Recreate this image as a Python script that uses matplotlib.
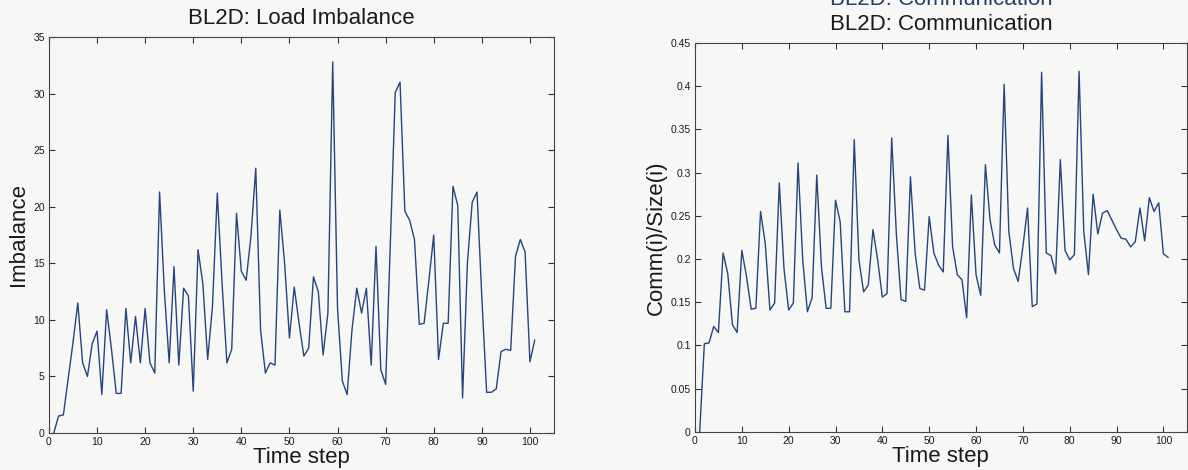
import numpy as np
import matplotlib
matplotlib.use("Agg")
import matplotlib.pyplot as plt
from matplotlib.ticker import FuncFormatter

plt.rcParams['font.family'] = ['Liberation Sans', 'DejaVu Sans']

# time steps
steps = np.arange(1, 102)

# load imbalance per step
imbalance = [0, 1.5, 1.6, 4.8, 8.0, 11.5, 6.2, 5.0, 7.9, 9.0,
             3.4, 10.9, 7.4, 3.5, 3.5, 11.0, 6.2, 10.3, 6.2, 11.0,
             6.2, 5.3, 21.3, 12.5, 6.2, 14.7, 6.0, 12.8, 12.1, 3.7,
             16.2, 13.2, 6.5, 11.2, 21.2, 13.2, 6.2, 7.4, 19.4, 14.3,
             13.5, 17.4, 23.4, 9.1, 5.3, 6.2, 6.0, 19.7, 15.0, 8.4,
             12.9, 9.7, 6.8, 7.5, 13.8, 12.5, 6.9, 10.6, 32.8, 11.0,
             4.6, 3.4, 9.1, 12.8, 10.6, 12.8, 6.0, 16.5, 5.6, 4.3,
             17.0, 30.1, 31.0, 19.6, 18.8, 17.1, 9.6, 9.7, 13.5, 17.5,
             6.5, 9.7, 9.7, 21.8, 20.1, 3.1, 15.0, 20.4, 21.3, 12.0,
             3.6, 3.6, 3.9, 7.2, 7.4, 7.3, 15.6, 17.1, 16.0, 6.3,
             8.2]

# communication / size per step
comm = [0, 0.102, 0.103, 0.122, 0.115, 0.207, 0.183, 0.124, 0.115, 0.210,
        0.180, 0.142, 0.143, 0.255, 0.218, 0.141, 0.149, 0.288, 0.189, 0.141,
        0.149, 0.311, 0.199, 0.139, 0.155, 0.297, 0.191, 0.143, 0.143, 0.268,
        0.243, 0.139, 0.139, 0.338, 0.199, 0.162, 0.170, 0.234, 0.199, 0.156,
        0.160, 0.340, 0.228, 0.153, 0.151, 0.295, 0.207, 0.166, 0.164, 0.249,
        0.207, 0.193, 0.185, 0.343, 0.214, 0.182, 0.176, 0.132, 0.274, 0.182,
        0.158, 0.309, 0.245, 0.216, 0.207, 0.402, 0.232, 0.189, 0.174, 0.214,
        0.259, 0.145, 0.148, 0.416, 0.207, 0.204, 0.183, 0.315, 0.210, 0.199,
        0.205, 0.417, 0.232, 0.182, 0.275, 0.229, 0.253, 0.256, 0.245, 0.234,
        0.224, 0.223, 0.214, 0.220, 0.259, 0.221, 0.271, 0.255, 0.265, 0.206,
        0.202]

xticks = np.arange(0, 101, 10)
bg = '#f7f7f5'
line_col = '#24457e'
txt = '#1a1a1a'

fig = plt.figure(figsize=(11.88, 4.70), dpi=100, facecolor=bg)
ax1 = fig.add_axes([0.0412, 0.0787, 0.4251, 0.8426])
ax2 = fig.add_axes([0.585, 0.0809, 0.414, 0.828])

def style(ax):
    ax.set_facecolor(bg)
    ax.tick_params(direction='in', top=True, right=True, length=4,
                   width=0.8, labelsize=7.5, colors='#333333',
                   labelcolor=txt, pad=3)
    for s in ax.spines.values():
        s.set_color('#444444')
        s.set_linewidth(0.8)
    ax.set_xlim(0, 105)
    ax.set_xticks(xticks)
    ax.xaxis.set_major_formatter(FuncFormatter(lambda v, p: f"{v:g}"))
    ax.yaxis.set_major_formatter(FuncFormatter(lambda v, p: f"{v:g}"))

ax1.plot(steps, imbalance, color=line_col, lw=1.0)
style(ax1)
ax1.set_ylim(0, 35)
ax1.set_yticks(np.arange(0, 36, 5))
ax1.set_title('BL2D: Load Imbalance', fontsize=16, color=txt, pad=9)
ax1.set_xlabel('Time step', fontsize=16, color=txt, labelpad=0)
ax1.set_ylabel('Imbalance', fontsize=16, color=txt, labelpad=3)

ax2.plot(steps, comm, color=line_col, lw=1.0)
style(ax2)
ax2.set_ylim(0, 0.45)
ax2.set_yticks(np.arange(0, 0.451, 0.05))
ax2.set_title('BL2D: Communication', fontsize=16, color=txt, pad=9)
ax2.set_xlabel('Time step', fontsize=16, color=txt, labelpad=0)
ax2.set_ylabel('Comm(i)/Size(i)', fontsize=16, color=txt, labelpad=3)

# cut-off duplicate title at the very top of the scan
fig.text(0.792, 0.989, 'BL2D: Communication', fontsize=16, color='#2a3f66',
         ha='center', va='baseline')

fig.savefig('out.png', dpi=100, facecolor=bg)
